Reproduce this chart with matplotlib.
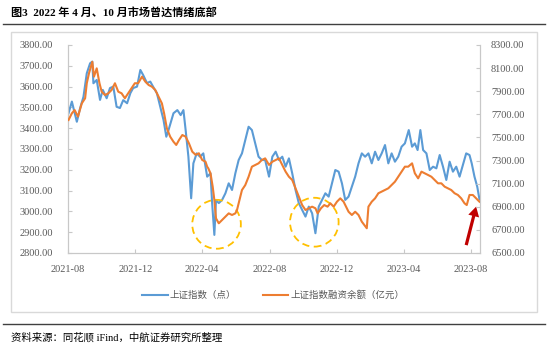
import numpy as np
import pandas as pd
import matplotlib
matplotlib.use("Agg")
import matplotlib.pyplot as plt
from matplotlib.patches import Ellipse, Rectangle
from matplotlib.lines import Line2D
import matplotlib.dates as mdates

plt.rcParams['font.family'] = ['Liberation Serif', 'Noto Sans CJK SC']

# 上证指数 (left axis)
sh_dates = [
    '2021-08-02', '2021-08-08', '2021-08-17', '2021-08-23', '2021-08-29', '2021-09-04',
    '2021-09-10', '2021-09-14', '2021-09-16', '2021-09-22', '2021-09-28', '2021-10-03',
    '2021-10-10', '2021-10-16', '2021-10-22', '2021-10-28', '2021-11-03', '2021-11-09',
    '2021-11-16', '2021-11-22', '2021-11-27', '2021-12-04', '2021-12-10', '2021-12-15',
    '2021-12-22', '2021-12-28', '2022-01-02', '2022-01-09', '2022-01-15', '2022-01-21',
    '2022-01-26', '2022-01-30', '2022-02-08', '2022-02-15', '2022-02-21', '2022-02-26',
    '2022-03-02', '2022-03-07', '2022-03-12', '2022-03-16', '2022-03-22', '2022-03-28',
    '2022-04-03', '2022-04-10', '2022-04-16', '2022-04-19', '2022-04-23', '2022-04-26',
    '2022-05-01', '2022-05-07', '2022-05-13', '2022-05-19', '2022-05-25', '2022-05-31',
    '2022-06-06', '2022-06-12', '2022-06-18', '2022-06-24', '2022-06-30', '2022-07-06',
    '2022-07-12', '2022-07-18', '2022-07-24', '2022-07-31', '2022-08-06', '2022-08-12',
    '2022-08-18', '2022-08-24', '2022-08-30', '2022-09-05', '2022-09-11', '2022-09-17',
    '2022-09-23', '2022-09-29', '2022-10-05', '2022-10-11', '2022-10-17', '2022-10-23',
    '2022-10-29', '2022-11-04', '2022-11-10', '2022-11-16', '2022-11-22', '2022-11-28',
    '2022-12-04', '2022-12-10', '2022-12-16', '2022-12-22', '2022-12-28', '2023-01-03',
    '2023-01-09', '2023-01-15', '2023-01-21', '2023-01-27', '2023-02-02', '2023-02-08',
    '2023-02-14', '2023-02-20', '2023-02-26', '2023-03-04', '2023-03-10', '2023-03-16',
    '2023-03-22', '2023-03-28', '2023-04-03', '2023-04-10', '2023-04-16', '2023-04-21',
    '2023-04-26', '2023-05-01', '2023-05-06', '2023-05-12', '2023-05-18', '2023-05-24',
    '2023-05-30', '2023-06-05', '2023-06-11', '2023-06-17', '2023-06-23', '2023-06-29',
    '2023-07-05', '2023-07-11', '2023-07-17', '2023-07-23', '2023-07-29', '2023-08-02',
    '2023-08-07', '2023-08-12', '2023-08-16',
]
sh_index = [
    3472, 3528, 3431, 3497, 3551, 3664,
    3712, 3720, 3616, 3632, 3536, 3584,
    3544, 3593, 3600, 3503, 3497, 3535,
    3520, 3569, 3593, 3600, 3680, 3656,
    3617, 3624, 3600, 3568, 3503, 3439,
    3359, 3391, 3472, 3487, 3463, 3487,
    3391, 3263, 3063, 3231, 3279, 3263,
    3279, 3167, 3183, 3039, 2887, 3055,
    3040, 3055, 3087, 3135, 3103, 3183,
    3247, 3279, 3343, 3407, 3391, 3327,
    3263, 3247, 3247, 3167, 3263, 3287,
    3247, 3263, 3215, 3255, 3183, 3103,
    3039, 3007, 2975, 3023, 2991, 2895,
    3023, 3055, 3087, 3071, 3135, 3199,
    3191, 3135, 3055, 3071, 3119, 3167,
    3231, 3279, 3263, 3279, 3231, 3287,
    3247, 3279, 3319, 3231, 3279, 3239,
    3263, 3311, 3327, 3391, 3311, 3327,
    3295, 3391, 3295, 3279, 3199, 3215,
    3207, 3271, 3215, 3151, 3239, 3191,
    3215, 3167, 3223, 3279, 3271, 3231,
    3167, 3119, 3058,
]

# 上证指数融资余额 (right axis)
mg_dates = [
    '2021-08-02', '2021-08-08', '2021-08-13', '2021-08-19', '2021-08-26', '2021-09-01',
    '2021-09-04', '2021-09-08', '2021-09-14', '2021-09-17', '2021-09-22', '2021-09-27',
    '2021-10-01', '2021-10-07', '2021-10-13', '2021-10-19', '2021-10-25', '2021-10-31',
    '2021-11-06', '2021-11-12', '2021-11-18', '2021-11-24', '2021-11-30', '2021-12-06',
    '2021-12-13', '2021-12-19', '2021-12-25', '2021-12-31', '2022-01-06', '2022-01-12',
    '2022-01-18', '2022-01-22', '2022-01-27', '2022-02-02', '2022-02-08', '2022-02-13',
    '2022-02-18', '2022-02-24', '2022-03-02', '2022-03-08', '2022-03-14', '2022-03-20',
    '2022-03-26', '2022-04-01', '2022-04-07', '2022-04-10', '2022-04-12', '2022-04-16',
    '2022-04-20', '2022-04-23', '2022-04-26', '2022-05-01', '2022-05-07', '2022-05-13',
    '2022-05-19', '2022-05-25', '2022-05-31', '2022-06-03', '2022-06-06', '2022-06-12',
    '2022-06-18', '2022-06-24', '2022-06-30', '2022-07-06', '2022-07-12', '2022-07-18',
    '2022-07-24', '2022-07-31', '2022-08-06', '2022-08-12', '2022-08-18', '2022-08-24',
    '2022-08-30', '2022-09-05', '2022-09-11', '2022-09-17', '2022-09-23', '2022-09-29',
    '2022-10-05', '2022-10-11', '2022-10-17', '2022-10-23', '2022-10-27', '2022-11-02',
    '2022-11-08', '2022-11-14', '2022-11-19', '2022-11-25', '2022-12-01', '2022-12-07',
    '2022-12-13', '2022-12-16', '2022-12-22', '2022-12-28', '2023-01-03', '2023-01-09',
    '2023-01-15', '2023-01-24', '2023-01-27', '2023-02-02', '2023-02-08', '2023-02-14',
    '2023-02-20', '2023-02-26', '2023-03-04', '2023-03-10', '2023-03-16', '2023-03-22',
    '2023-03-28', '2023-04-03', '2023-04-09', '2023-04-16', '2023-04-21', '2023-04-27',
    '2023-05-03', '2023-05-09', '2023-05-15', '2023-05-21', '2023-05-27', '2023-06-02',
    '2023-06-08', '2023-06-14', '2023-06-20', '2023-06-26', '2023-07-02', '2023-07-08',
    '2023-07-14', '2023-07-20', '2023-07-24', '2023-07-29', '2023-08-04', '2023-08-10',
    '2023-08-16',
]
margin = [
    7651, 7709, 7737, 7680, 7795, 7839,
    7969, 8055, 8155, 8026, 8098, 7969,
    7896, 7867, 7882, 7911, 7969, 7896,
    7882, 7839, 7882, 7925, 7969, 7969,
    8026, 7983, 7954, 7939, 7911, 7853,
    7795, 7709, 7579, 7507, 7463, 7435,
    7478, 7521, 7507, 7449, 7377, 7350,
    7363, 7305, 7290, 7247, 7233, 7190,
    7074, 6959, 6800, 6757, 6786, 6814,
    6843, 6829, 6843, 6872, 6930, 7045,
    7088, 7160, 7247, 7262, 7276, 7305,
    7319, 7262, 7290, 7305, 7319, 7262,
    7204, 7160, 7132, 7060, 6987, 6915,
    6872, 6887, 6901, 6887, 6843, 6887,
    6915, 6901, 6930, 6901, 6944, 6973,
    6944, 6915, 6857, 6829, 6857, 6829,
    6771, 6714, 6901, 6944, 6973, 7017,
    7031, 7045, 7060, 7088, 7117, 7160,
    7204, 7247, 7247, 7276, 7190, 7146,
    7204, 7190, 7175, 7160, 7132, 7103,
    7103, 7074, 7060, 7045, 7017, 7002,
    6973, 6930, 6915, 7002, 7002, 6973,
    6944,
]

x_ticks = ['2021-08-01', '2021-12-01', '2022-04-01', '2022-08-01',
           '2022-12-01', '2023-04-01', '2023-08-01']
left_ticks = np.arange(2800, 3801, 100)
right_ticks = np.arange(6500, 8301, 200)

# dashed circles: (center date, center value on left axis)
circles = [('2022-04-27', 2938), ('2022-10-21', 2948)]

blue = '#5B9BD5'
orange = '#ED7D31'
gray_txt = '#595959'
axis_c = '#C8C8C8'

fig = plt.figure(figsize=(5.5, 3.45), dpi=100)
ax1 = fig.add_axes([68 / 550, 1 - 253 / 345, 412 / 550, 208 / 345])
ax2 = ax1.twinx()

sh_x = pd.to_datetime(sh_dates)
mg_x = pd.to_datetime(mg_dates)
ax1.plot(sh_x, sh_index, color=blue, lw=1.5, zorder=3)
ax2.plot(mg_x, margin, color=orange, lw=1.5, zorder=3)

ax1.set_xlim(pd.Timestamp('2021-08-01'), pd.Timestamp('2023-08-17'))
ax1.set_ylim(2800, 3800)
ax2.set_ylim(6500, 8300)
ax1.set_yticks(left_ticks)
ax1.set_yticklabels([f'{v:.2f}' for v in left_ticks])
ax2.set_yticks(right_ticks)
ax2.set_yticklabels([f'{v:.2f}' for v in right_ticks])
ax1.set_xticks(pd.to_datetime(x_ticks))
ax1.xaxis.set_major_formatter(mdates.DateFormatter('%Y-%m'))

for a in (ax1, ax2):
    a.spines['top'].set_visible(False)
    for s in ('left', 'right', 'bottom'):
        a.spines[s].set_color(axis_c)
        a.spines[s].set_linewidth(0.8)
    a.patch.set_visible(False)
ax1.tick_params(axis='y', direction='in', length=3, color=axis_c, labelcolor=gray_txt,
                labelsize=7.5, pad=11)
ax2.tick_params(axis='y', direction='in', length=3, color=axis_c, labelcolor=gray_txt,
                labelsize=7.5, pad=8)
ax1.tick_params(axis='x', direction='in', length=3, color=axis_c, labelcolor=gray_txt,
                labelsize=7.5, pad=9)

# dashed circles marking the bottoms
for d, v in circles:
    c = pd.Timestamp(d)
    e = Ellipse((mdates.date2num(c), v), width=88, height=235, fill=False,
                edgecolor='#FFC000', lw=1.3, linestyle=(0, (4, 2.5)), zorder=4)
    ax1.add_patch(e)

# red arrow at the end
ax1.annotate('', xy=(pd.Timestamp('2023-08-10'), 3023),
             xytext=(pd.Timestamp('2023-07-23'), 2838),
             arrowprops=dict(facecolor='#C00000', edgecolor='none', width=2.3,
                             headwidth=8, headlength=7, shrink=0),
             annotation_clip=False, zorder=5)

# legend
handles = [Line2D([], [], color=blue, lw=1.5), Line2D([], [], color=orange, lw=1.5)]
fig.legend(handles, ['上证指数（点）', '上证指数融资余额（亿元）'], loc='center',
           bbox_to_anchor=(0.497, 1 - 295 / 345), ncol=2, frameon=False,
           fontsize=6.8, handlelength=2.7, handletextpad=0.2, columnspacing=2.8,
           labelcolor=gray_txt)

# frame, title, rules, source
fig.patches.append(Rectangle((11 / 550, 1 - 312 / 345), 526 / 550, 280 / 345,
                             transform=fig.transFigure, fill=False,
                             edgecolor='#D9D9D9', lw=1))
fig.text(11 / 550, 1 - 12 / 345, '图3  2022 年 4 月、10 月市场曾达情绪底部',
         fontsize=8, fontweight='bold', va='center', ha='left', color='black')
fig.add_artist(Line2D([3 / 550, 545 / 550], [1 - 24 / 345] * 2, color='#404040', lw=1))
fig.add_artist(Line2D([3 / 550, 545 / 550], [1 - 324 / 345] * 2, color='#404040', lw=1))
fig.text(11 / 550, 1 - 337 / 345, '资料来源：同花顺 iFind，中航证券研究所整理',
         fontsize=7.5, va='center', ha='left', color='black')

fig.savefig('out.png', dpi=100)
